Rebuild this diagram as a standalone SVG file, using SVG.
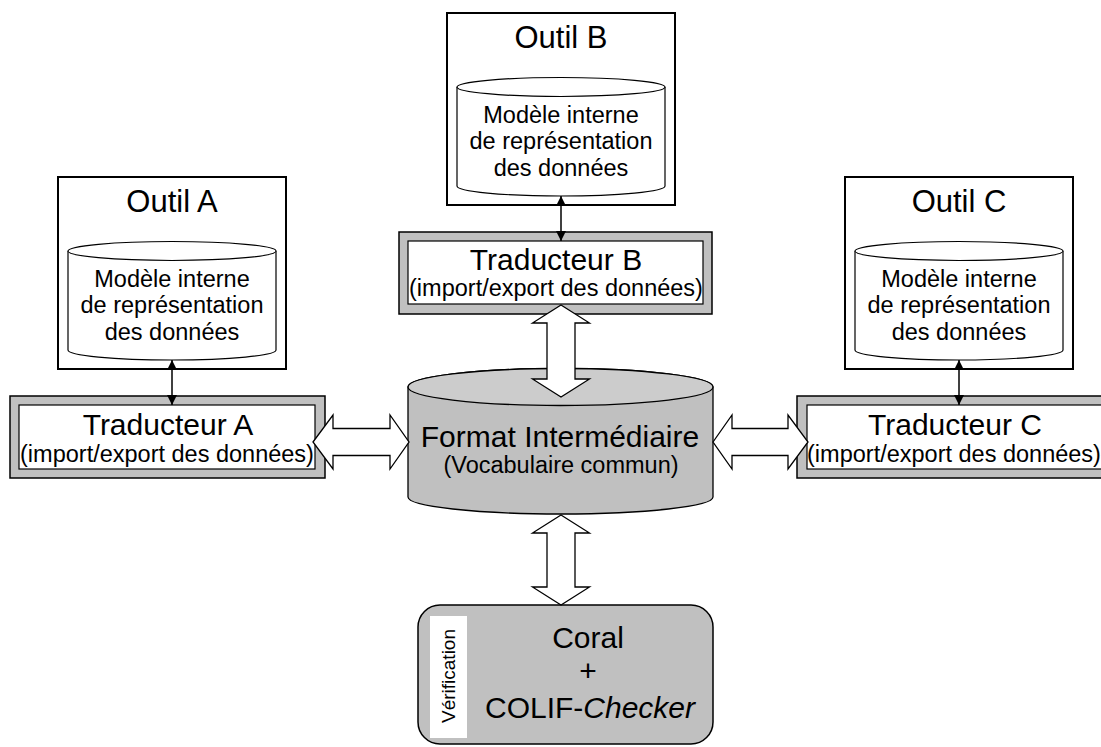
<svg xmlns="http://www.w3.org/2000/svg" width="1101" height="747" viewBox="0 0 1101 747">
<style>
text{font-family:"Liberation Sans",Arial,sans-serif;fill:#000;text-anchor:middle}
.big{font-size:30px}
.ttl{font-size:31px}
.mid{font-size:23.5px}
.outil{fill:#fff;stroke:#000;stroke-width:2}
.cyl{fill:#fff;stroke:#000;stroke-width:1.2}
.trout{fill:#c0c0c0;stroke:#000;stroke-width:1.5}
.trin{fill:#fff;stroke:#000;stroke-width:1.2}
.block{fill:#fff;stroke:#000;stroke-width:1.3;stroke-linejoin:miter}
.thin{stroke:#000;stroke-width:1.5;fill:none;marker-start:url(#ah);marker-end:url(#ah)}
</style>
<defs>
<marker id="ah" viewBox="0 0 10 10" refX="10" refY="5" markerWidth="10" markerHeight="10" markerUnits="userSpaceOnUse" orient="auto-start-reverse">
<path d="M0,0 L10,5 L0,10 Z" fill="#000"/>
</marker>
</defs>
<rect width="1101" height="747" fill="#fff"/>

<g id="outilA">
<rect class="outil" x="58" y="177" width="228" height="192"/>
<text class="ttl" x="172" y="212">Outil A</text>
<path class="cyl" d="M68,251 A104,9.5 0 0,1 276,251 L276,350 A104,10 0 0,1 68,350 Z"/>
<path class="cyl" d="M68,251 A104,9.5 0 0,0 276,251" fill="none"/>
<text class="mid" x="172" y="287">Modèle interne</text>
<text class="mid" x="172" y="313">de représentation</text>
<text class="mid" x="172" y="340">des données</text>
</g>

<g id="outilB">
<rect class="outil" x="447" y="13" width="228" height="192"/>
<text class="ttl" x="561" y="48">Outil B</text>
<path class="cyl" d="M457,87 A104,9.5 0 0,1 665,87 L665,186 A104,10 0 0,1 457,186 Z"/>
<path class="cyl" d="M457,87 A104,9.5 0 0,0 665,87" fill="none"/>
<text class="mid" x="561" y="123">Modèle interne</text>
<text class="mid" x="561" y="149">de représentation</text>
<text class="mid" x="561" y="176">des données</text>
</g>

<g id="outilC">
<rect class="outil" x="845" y="177" width="228" height="192"/>
<text class="ttl" x="959" y="212">Outil C</text>
<path class="cyl" d="M855,251 A104,9.5 0 0,1 1063,251 L1063,350 A104,10 0 0,1 855,350 Z"/>
<path class="cyl" d="M855,251 A104,9.5 0 0,0 1063,251" fill="none"/>
<text class="mid" x="959" y="287">Modèle interne</text>
<text class="mid" x="959" y="313">de représentation</text>
<text class="mid" x="959" y="340">des données</text>
</g>

<g id="tradA">
<rect class="trout" x="10" y="396" width="315" height="82"/>
<rect class="trin" x="19" y="405" width="296" height="64"/>
<text class="big" x="168" y="435">Traducteur A</text>
<text class="mid" x="167" y="462">(import/export des données)</text>
</g>

<g id="tradB">
<rect class="trout" x="399" y="232" width="313" height="82"/>
<rect class="trin" x="408" y="241" width="295" height="63"/>
<text class="big" x="556" y="270">Traducteur B</text>
<text class="mid" x="556" y="296">(import/export des données)</text>
</g>

<g id="tradC">
<rect class="trout" x="797" y="396" width="315" height="82"/>
<rect class="trin" x="807" y="405" width="296" height="64"/>
<text class="big" x="955" y="435">Traducteur C</text>
<text class="mid" x="954" y="462">(import/export des données)</text>
</g>

<g id="format">
<path d="M408,387 A152.5,18.5 0 0,1 713,387 L713,497 A152.5,17 0 0,1 408,497 Z" fill="#c0c0c0" stroke="#000" stroke-width="1.3"/>
<ellipse cx="560.5" cy="387" rx="152.5" ry="18.5" fill="#cccccc" stroke="#000" stroke-width="1.3"/>
<text x="560" y="447" style="font-size:30px">Format Intermédiaire</text>
<text class="mid" x="561" y="473">(Vocabulaire commun)</text>
</g>

<g id="coral">
<rect x="418" y="605" width="295" height="139" rx="22" ry="22" fill="#c0c0c0" stroke="#000" stroke-width="1.5"/>
<rect x="430" y="616" width="37" height="122" fill="#fff"/>
<text x="455" y="676" transform="rotate(-90 455 676)" style="font-size:19px">Vérification</text>
<text class="big" x="588" y="648">Coral</text>
<text class="big" x="588" y="681">+</text>
<text class="big" x="590" y="718">COLIF-<tspan font-style="italic">Checker</tspan></text>
</g>

<g id="connectors">
<line class="thin" x1="172" y1="360" x2="172" y2="405"/>
<line class="thin" x1="561" y1="196" x2="561" y2="241"/>
<line class="thin" x1="959" y1="360" x2="959" y2="405"/>
<path class="block" d="M561,305 L589.5,323 L575,323 L575,379 L589.5,379 L561,397 L532.5,379 L547,379 L547,323 L532.5,323 Z"/>
<path class="block" d="M561,515 L589.5,533 L575,533 L575,587 L589.5,587 L561,605 L532.5,587 L547,587 L547,533 L532.5,533 Z"/>
<path class="block" d="M313,442 L333,415 L333,428.5 L390,428.5 L390,415 L409,442 L390,469 L390,455.5 L333,455.5 L333,469 Z"/>
<path class="block" d="M713,442 L732,415 L732,428.5 L788,428.5 L788,415 L808,442 L788,469 L788,455.5 L732,455.5 L732,469 Z"/>
</g>
</svg>
